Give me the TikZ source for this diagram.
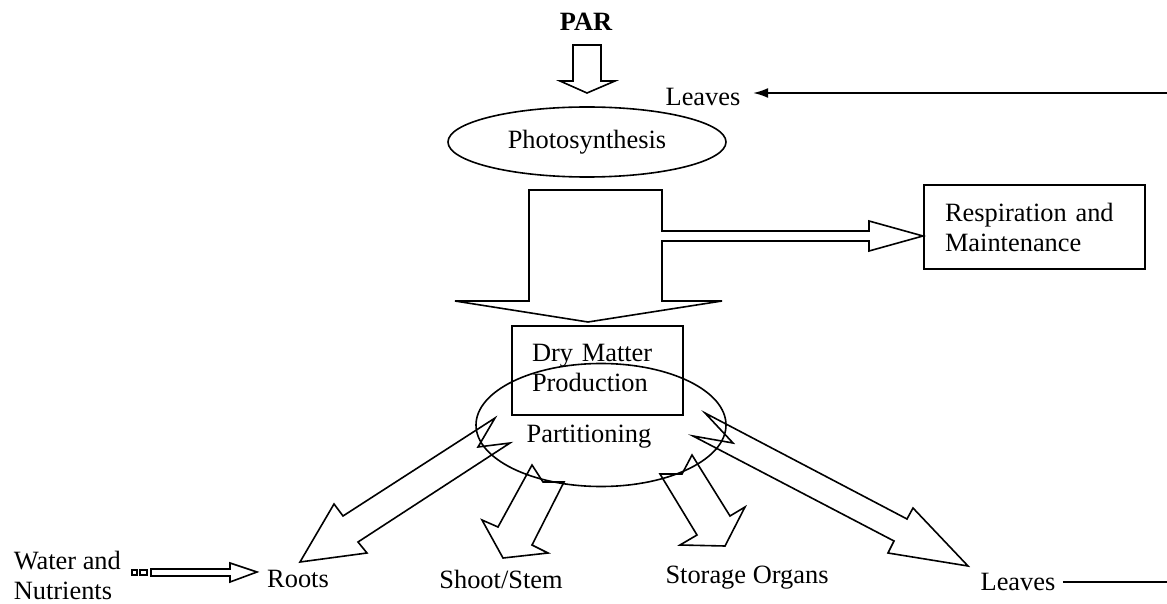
\documentclass[tikz,border=0pt]{standalone}
\usepackage{fontspec}
\setmainfont{Liberation Serif}
\usetikzlibrary{shapes.geometric, arrows.meta}

\begin{document}
\begin{tikzpicture}[x=0.5pt, y=-0.5pt, line width=0.8pt,
	every node/.style={font=\fontsize{13.2}{15}\selectfont},
	blockarrow/.style={draw, line join=miter},
	box/.style={draw, rectangle, align=left, inner sep=0pt},
	oval/.style={draw, ellipse, inner sep=0pt}]
	\useasboundingbox (0,0) rectangle (1167,604);

	\coordinate (edgetop) at (1167,93);
	\coordinate (edgebot) at (1167,582);

	% top part
	\node (par) at (586,22) {\bfseries PAR};
	\node [oval, minimum width=139pt, minimum height=35pt] (photo) at (587,142) {Photosynthesis};
	\node [inner xsep=6pt] (leavestop) at (703,97) {Leaves};
	\node [box, minimum width=110.5pt, minimum height=42pt, text width=89.5pt] (resp) at (1034.5,227) {Respiration and\\Maintenance};

	\draw [blockarrow] (573,45) -- (601,45) -- (601,81) -- (615,81) -- (587,93) -- (560,81) -- (573,81) -- cycle;
	\draw [blockarrow] (662,231) -- (662,190) -- (529,190) -- (529,301) -- (455,301) -- (588,322) -- (722,301) -- (662,301) -- (662,241)
		-- (869,241) -- (869,251) -- (923,236) -- (869,221) -- (869,231) -- cycle;

	% middle
	\node [box, minimum width=85.5pt, minimum height=44.5pt, text width=65.5pt, text depth=18pt] (drymatter) at (597.5,370.5) {Dry Matter\\Production};
	\node [oval, minimum width=125pt, minimum height=61.5pt] (partition) at (601,425) {};
	\node (parttext) at (589,437) {Partitioning};

	% sinks
	\node (roots) at (298,579) {Roots};
	\node (shoot) at (501,579) {Shoot/Stem};
	\node (storage) at (747,578) {Storage Organs};
	\node (leavesbot) at (1018,582) {Leaves};
	\node [anchor=west, align=left, inner sep=0pt] (water) at (13,575) {Water and\\Nutrients};

	\draw [blockarrow] (300,562) -- (334,504) -- (343,516) -- (495,418) -- (478,447) -- (510,443) -- (358,542) -- (367,553) -- cycle;
	\draw [blockarrow] (532,465) -- (543,482) -- (564,482) -- (532,545) -- (548,553) -- (503,558) -- (482,520) -- (498,527) -- cycle;
	\draw [blockarrow] (692,455) -- (730,516) -- (745,507) -- (725,546) -- (680,545) -- (697,535) -- (660,474) -- (682,474) -- cycle;
	\draw [blockarrow] (705,413) -- (907,519) -- (913,508) -- (968,566) -- (888,553) -- (894,541) -- (693,436) -- (733,443) -- cycle;

	% water input
	\draw [blockarrow] (132,570) rectangle (137,575);
	\draw [blockarrow] (140,570) rectangle (147,575);
	\draw [blockarrow] (151,569) -- (230,569) -- (230,563) -- (257,572) -- (230,582) -- (230,576) -- (151,576) -- cycle;

	% feedback of leaves
	\draw (leavesbot) -- (edgebot);
	\draw [arrows={-Latex[length=7.5pt, width=5pt]}] (edgetop) -- (edgetop -| leavestop.east);
\end{tikzpicture}
\end{document}
